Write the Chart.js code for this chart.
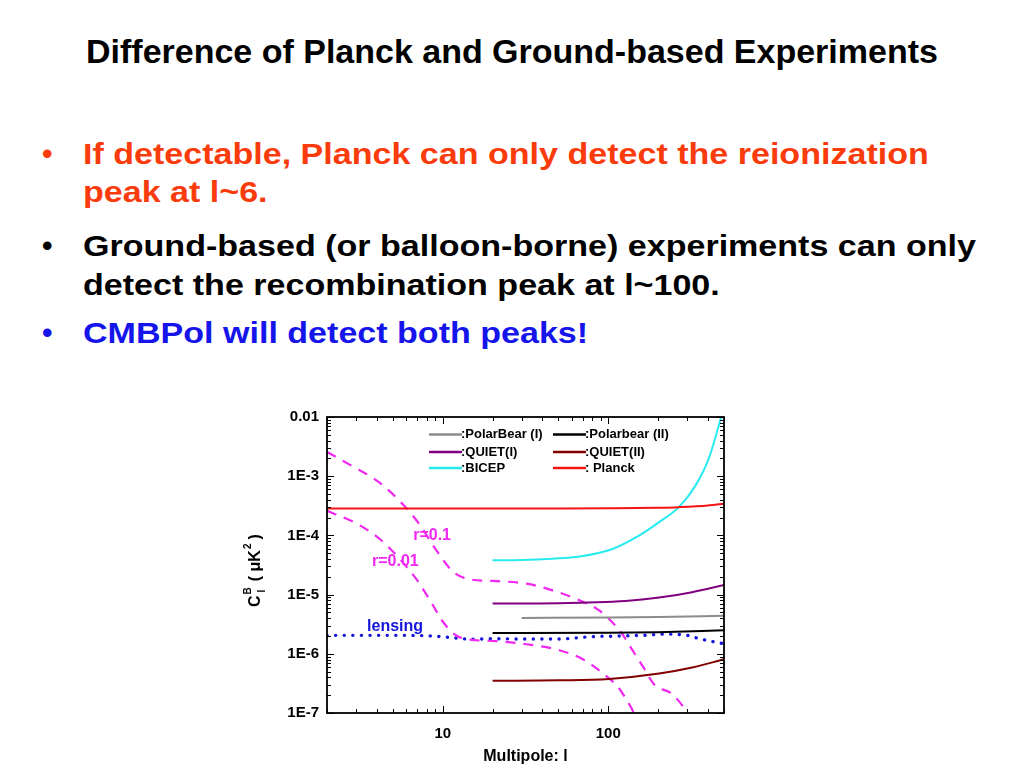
<!DOCTYPE html>
<html>
<head>
<meta charset="utf-8">
<script src="https://cdn.jsdelivr.net/npm/chart.js@4.4.1/dist/chart.umd.min.js"></script>
<style>
  body { margin: 0; width: 1024px; height: 768px; background: #fff; position: relative; overflow: hidden;
         font-family: "Liberation Sans", Arial, sans-serif; font-weight: bold; }
  .t { position: absolute; white-space: nowrap; line-height: 1; transform-origin: 0 0; }
  .title { font-size: 33px; left: 0; width: 1024px; text-align: center; top: 35px; color: #000;
           transform: scaleX(1.03); transform-origin: 514px 0; }
  .b { font-size: 30px; transform: scaleX(1.135); }
  .dot { font-size: 30px; }
  .red { color: rgb(250, 60, 12); }
  .blk { color: #000; }
  .blu { color: rgb(20, 20, 235); }
  #box { position: absolute; left: 230px; top: 400px; width: 520px; height: 368px; }
</style>
</head>
<body>
<div class="t title">Difference of Planck and Ground-based Experiments</div>

<div class="t dot red" style="left:42px; top:139px;">•</div>
<div class="t b red" style="left:83px; top:139px;">If detectable, Planck can only detect the reionization</div>
<div class="t b red" style="left:83px; top:177px;">peak at l~6.</div>

<div class="t dot blk" style="left:42px; top:231px;">•</div>
<div class="t b blk" style="left:83px; top:231px;">Ground-based (or balloon-borne) experiments can only</div>
<div class="t b blk" style="left:83px; top:270px;">detect the recombination peak at l~100.</div>

<div class="t dot blu" style="left:42px; top:318px;">•</div>
<div class="t b blu" style="left:83px; top:318px;">CMBPol will detect both peaks!</div>

<div id="box"><canvas id="myChart"></canvas></div>

<script>
"use strict";

// axis ticks that get a label
const xTickVals = [10, 100];
const xTickText = ["10", "100"];
const yTickVals = [1e-7, 1e-6, 1e-5, 1e-4, 1e-3, 1e-2];
const yTickText = ["1E-7", "1E-6", "1E-5", "1E-4", "1E-3", "0.01"];

const seriesNames = [":PolarBear (I)", ":Polarbear (II)", ":QUIET(I)", ":QUIET(II)", ":BICEP", ": Planck"];

// values (multipole l, C_l^B in uK^2)
const pb1L = [30, 100, 200, 500];
const pb1C = [4.03e-6, 4.1e-6, 4.19e-6, 4.4e-6];

const pb2L = [20, 100, 200, 500];
const pb2C = [2.25e-6, 2.27e-6, 2.32e-6, 2.49e-6];

const quiet1L = [20, 50, 127, 203, 321, 500];
const quiet1C = [7.05e-6, 7.15e-6, 7.8e-6, 8.9e-6, 1.1e-5, 1.45e-5];

const quiet2L = [20, 50, 101, 203, 321, 500];
const quiet2C = [3.5e-7, 3.56e-7, 3.75e-7, 4.63e-7, 5.85e-7, 8.1e-7];

const bicepL = [20, 30, 46, 67, 106, 154, 203, 267, 337, 405, 465, 500];
const bicepC = [3.8e-5, 3.85e-5, 4.05e-5, 4.4e-5, 5.9e-5, 1.0e-4, 1.68e-4, 3.0e-4, 7.0e-4, 2.0e-3, 7.2e-3, 1.5e-2];

const planckL = [2, 10, 50, 100, 200, 267, 400, 500];
const planckC = [2.85e-4, 2.85e-4, 2.85e-4, 2.87e-4, 2.93e-4, 3.0e-4, 3.2e-4, 3.44e-4];

const lensL = [2, 5, 8, 12, 15, 20, 30, 50, 80, 120, 160, 220, 300, 350, 420, 500];
const lensC = [2.05e-6, 2.05e-6, 2.02e-6, 1.85e-6, 1.76e-6, 1.8e-6, 1.78e-6, 1.78e-6, 1.95e-6, 2.0e-6, 2.05e-6, 2.15e-6, 2.05e-6, 1.82e-6, 1.62e-6, 1.48e-6];

const r01L = [2, 2.9, 4.1, 6.07, 7.3, 9.0, 11.6, 14.6, 20, 32, 46, 67, 88, 119, 140, 165, 189, 244, 300, 320];
const r01C = [2.57e-3, 1.43e-3, 8.0e-4, 2.84e-4, 1.48e-4, 6.0e-5, 2.41e-5, 1.81e-5, 1.7e-5, 1.53e-5, 1.18e-5, 8.0e-6, 5.4e-6, 2.33e-6, 1.15e-6, 5.6e-7, 3.05e-7, 2.07e-7, 1.0e-7, 7e-8];

const r001L = [2, 2.9, 3.66, 4.59, 7.0, 8.66, 9.95, 12.0, 14.6, 21, 32, 50.7, 70.7, 92.4, 115, 136.8, 143, 150];
const r001C = [2.6e-4, 1.68e-4, 1.14e-4, 6.8e-5, 1.75e-5, 6.86e-6, 3.58e-6, 2.06e-6, 1.74e-6, 1.64e-6, 1.45e-6, 1.15e-6, 8.0e-7, 4.7e-7, 2.7e-7, 1.26e-7, 1.0e-7, 8e-8];

const FONT = "Liberation Sans";

function pts(ls, cs) {
    return ls.map((l, i) => ({ x: l, y: cs[i] }));
}

function solid(data, color) {
    return { data: data, borderColor: color, borderWidth: 2, pointRadius: 0, fill: false,
             cubicInterpolationMode: "monotone" };
}

function labelFor(vals, texts) {
    return function (v) {
        const i = vals.findIndex(t => Math.abs(t - v) / t < 1e-6);
        return i >= 0 ? texts[i] : "";
    };
}

const legendColors = ["rgb(140,140,140)", "#000", "rgb(128,0,128)", "rgb(130,0,0)", "rgb(40,235,240)", "rgb(245,20,20)"];

// frame, inward ticks, legend, y title and curve labels
const decoPlugin = {
    id: "deco",
    afterDraw(chart) {
        const ctx = chart.ctx;
        const a = chart.chartArea;
        const xs = chart.scales.x;
        const ys = chart.scales.y;
        ctx.save();
        ctx.strokeStyle = "#000";
        ctx.lineWidth = 1;

        const tickVals = (min, max) => {
            let out = [];
            for (let e = Math.floor(Math.log10(min)); e <= Math.ceil(Math.log10(max)); e++) {
                for (let k = 1; k < 10; k++) {
                    const v = k * Math.pow(10, e);
                    if (v >= min * 0.999 && v <= max * 1.001) out.push({ v: v, major: k === 1 });
                }
            }
            return out;
        };
        ctx.beginPath();
        tickVals(xs.min, xs.max).forEach(t => {
            const px = Math.round(xs.getPixelForValue(t.v)) + 0.5;
            const len = t.major ? 7 : 4;
            ctx.moveTo(px, a.bottom); ctx.lineTo(px, a.bottom - len);
            ctx.moveTo(px, a.top); ctx.lineTo(px, a.top + len);
        });
        tickVals(ys.min, ys.max).forEach(t => {
            const py = Math.round(ys.getPixelForValue(t.v)) + 0.5;
            const len = t.major ? 7 : 4;
            ctx.moveTo(a.left, py); ctx.lineTo(a.left + len, py);
            ctx.moveTo(a.right, py); ctx.lineTo(a.right - len, py);
        });
        ctx.stroke();

        ctx.lineWidth = 1.8;
        ctx.strokeRect(a.left, a.top, a.right - a.left, a.bottom - a.top);

        // legend, two columns
        ctx.font = "bold 13px " + FONT;
        ctx.textBaseline = "middle";
        ctx.textAlign = "left";
        const cols = [a.left + 102, a.left + 226];
        const rows = [a.top + 17.5, a.top + 35, a.top + 51];
        seriesNames.forEach((name, i) => {
            const cx = cols[i % 2];
            const cy = rows[Math.floor(i / 2)];
            ctx.strokeStyle = legendColors[i];
            ctx.lineWidth = 2.6;
            ctx.beginPath();
            ctx.moveTo(cx, cy); ctx.lineTo(cx + 33, cy);
            ctx.stroke();
            ctx.fillStyle = "#000";
            ctx.fillText(name, cx + 32, cy);
        });

        // curve labels
        ctx.font = "bold 16px " + FONT;
        ctx.fillStyle = "rgb(240,40,240)";
        ctx.fillText("r=0.1", xs.getPixelForValue(6.63), ys.getPixelForValue(1e-4));
        ctx.fillText("r=0.01", xs.getPixelForValue(3.74), ys.getPixelForValue(3.56e-5));
        ctx.fillStyle = "rgb(20,20,220)";
        ctx.fillText("lensing", xs.getPixelForValue(3.49), ys.getPixelForValue(2.84e-6));

        // y axis title: C_l^B ( uK^2 )
        ctx.translate(30, 207);
        ctx.rotate(-Math.PI / 2);
        ctx.fillStyle = "#000";
        ctx.textBaseline = "alphabetic";
        let x = 0;
        ctx.font = "bold 16px " + FONT;
        ctx.fillText("C", x, 0);
        x += ctx.measureText("C").width + 1;
        ctx.font = "bold 10px " + FONT;
        ctx.fillText("B", x, -9);
        ctx.fillText("l", x + 2, 5);
        x += ctx.measureText("B").width + 6;
        ctx.font = "bold 16px " + FONT;
        ctx.fillText("( \u03BCK", x, 0);
        x += ctx.measureText("( \u03BCK").width + 1;
        ctx.font = "bold 10px " + FONT;
        ctx.fillText("2", x, -9);
        x += ctx.measureText("2").width + 4;
        ctx.font = "bold 16px " + FONT;
        ctx.fillText(")", x, 0);
        ctx.restore();
    }
};

const r01 = solid(pts(r01L, r01C), "rgb(240,40,240)");
r01.borderDash = [10, 8];
r01.borderWidth = 2.2;
const r001 = solid(pts(r001L, r001C), "rgb(240,40,240)");
r001.borderDash = [10, 8];
r001.borderWidth = 2.2;
const lens = solid(pts(lensL, lensC), "rgb(20,20,220)");
lens.borderDash = [0.1, 8.5];
lens.borderWidth = 3.4;
lens.borderCapStyle = "round";

var ctx = document.getElementById("myChart").getContext("2d");
var chart = new Chart(ctx, {
    type: "line",
    data: {
        datasets: [
            solid(pts(planckL, planckC), legendColors[5]),
            solid(pts(bicepL, bicepC), legendColors[4]),
            solid(pts(quiet1L, quiet1C), legendColors[2]),
            solid(pts(pb1L, pb1C), legendColors[0]),
            solid(pts(pb2L, pb2C), legendColors[1]),
            solid(pts(quiet2L, quiet2C), legendColors[3]),
            r01,
            r001,
            lens
        ]
    },
    options: {
        responsive: true,
        maintainAspectRatio: false,
        animation: false,
        layout: { padding: { left: 0, right: 26, top: 17, bottom: 0 } },
        plugins: { legend: { display: false }, tooltip: { enabled: false } },
        scales: {
            x: {
                type: "logarithmic",
                min: 2,
                max: 500,
                grid: { display: false },
                border: { display: false },
                ticks: {
                    autoSkip: false, maxRotation: 0, padding: 4, color: "#000",
                    font: { family: FONT, weight: "bold", size: 15 },
                    callback: labelFor(xTickVals, xTickText)
                },
                title: {
                    display: true, text: "Multipole: l", color: "#000",
                    font: { family: FONT, weight: "bold", size: 16 },
                    padding: { top: 6, bottom: 2 }
                },
                afterFit: s => { s.height = 55; }
            },
            y: {
                type: "logarithmic",
                min: 1e-7,
                max: 1e-2,
                grid: { display: false },
                border: { display: false },
                ticks: {
                    autoSkip: false, padding: 0, color: "#000",
                    font: { family: FONT, weight: "bold", size: 15 },
                    callback: labelFor(yTickVals, yTickText)
                },
                afterFit: s => { s.width = 97; }
            }
        }
    },
    plugins: [decoPlugin]
});
</script>
</body>
</html>
